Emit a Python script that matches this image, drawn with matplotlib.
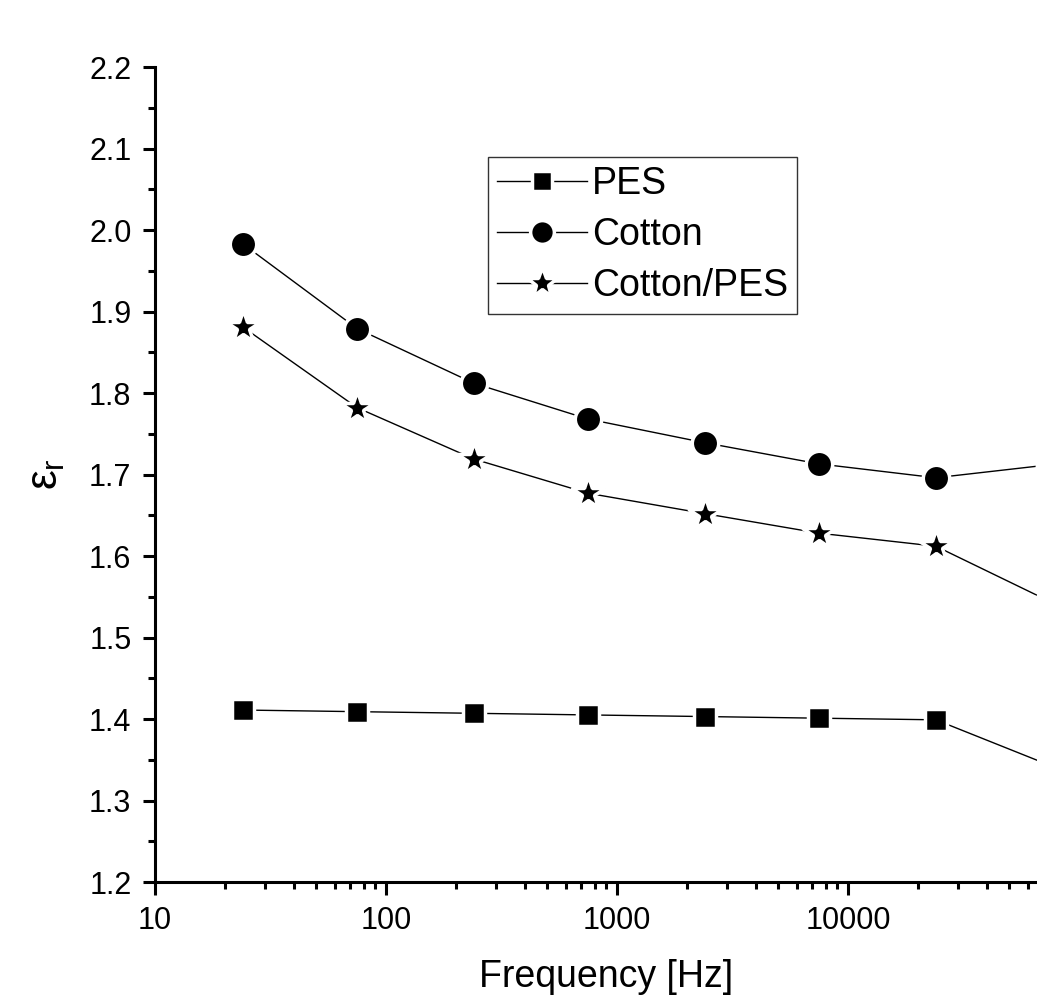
import matplotlib
matplotlib.use("Agg")
import matplotlib.pyplot as plt
from matplotlib.ticker import LogLocator, MultipleLocator, FixedLocator, FixedFormatter

plt.rcParams['font.family'] = ['Liberation Sans', 'DejaVu Sans']
plt.rcParams['mathtext.fontset'] = 'custom'
plt.rcParams['mathtext.rm'] = 'Liberation Sans'
plt.rcParams['mathtext.it'] = 'Liberation Sans'

freq = [24, 75, 240, 750, 2400, 7500, 24000, 75000]
pes = [1.411, 1.409, 1.407, 1.405, 1.403, 1.401, 1.399, 1.343]
cotton = [1.983, 1.879, 1.812, 1.768, 1.739, 1.713, 1.696, 1.712]
cotton_pes = [1.881, 1.782, 1.719, 1.677, 1.652, 1.628, 1.612, 1.544]
xticks = [10, 100, 1000, 10000]
xticklabels = ['10', '100', '1000', '10000']
yticks = [1.2, 1.3, 1.4, 1.5, 1.6, 1.7, 1.8, 1.9, 2.0, 2.1, 2.2]

fig = plt.figure(figsize=(10.37, 10.06), dpi=100)
ax = fig.add_axes([155/1037, 124/1006, 882/1037, 815/1006])

style = dict(color='black', lw=1.0, mec='white', mfc='black', mew=2.5)
ax.plot(freq, pes, marker='s', ms=16, label='PES', **style)
ax.plot(freq, cotton, marker='o', ms=19, label='Cotton', **style)
ax.plot(freq, cotton_pes, marker='*', ms=25, label='Cotton/PES', **style)

ax.set_xscale('log')
ax.set_xlim(10, 10 ** (1 + 882 / 231))
ax.set_ylim(1.2, 2.2)
ax.xaxis.set_major_locator(FixedLocator(xticks))
ax.xaxis.set_major_formatter(FixedFormatter(xticklabels))
ax.xaxis.set_minor_locator(LogLocator(base=10, subs=range(2, 10)))
ax.xaxis.set_minor_formatter(plt.NullFormatter())
ax.set_yticks(yticks)
ax.set_yticklabels([f'{v:.1f}' for v in yticks])
ax.yaxis.set_minor_locator(MultipleLocator(0.05))

for s in ['top', 'right']:
    ax.spines[s].set_visible(False)
for s in ['left', 'bottom']:
    ax.spines[s].set_linewidth(2.2)
ax.tick_params(which='major', direction='out', length=9, width=2.2, labelsize=22, pad=8)
ax.tick_params(which='minor', direction='out', length=5, width=2.2)

ax.set_xlabel('Frequency [Hz]', fontsize=27, labelpad=22)
ax.xaxis.set_label_coords((606 - 155) / 882, -0.095)
ax.set_ylabel(r'$\varepsilon_\mathregular{r}$', fontsize=32, labelpad=16)

leg = ax.legend(loc='upper left', bbox_to_anchor=(333/882, (882-157)/815), fontsize=27,
                frameon=True, fancybox=False, edgecolor='black', handlelength=2.4,
                handletextpad=0.12, borderpad=0.25, labelspacing=0.4, borderaxespad=0,
                markerscale=0.9)
leg.get_frame().set_linewidth(1.0)

fig.savefig('out.png', dpi=100)
